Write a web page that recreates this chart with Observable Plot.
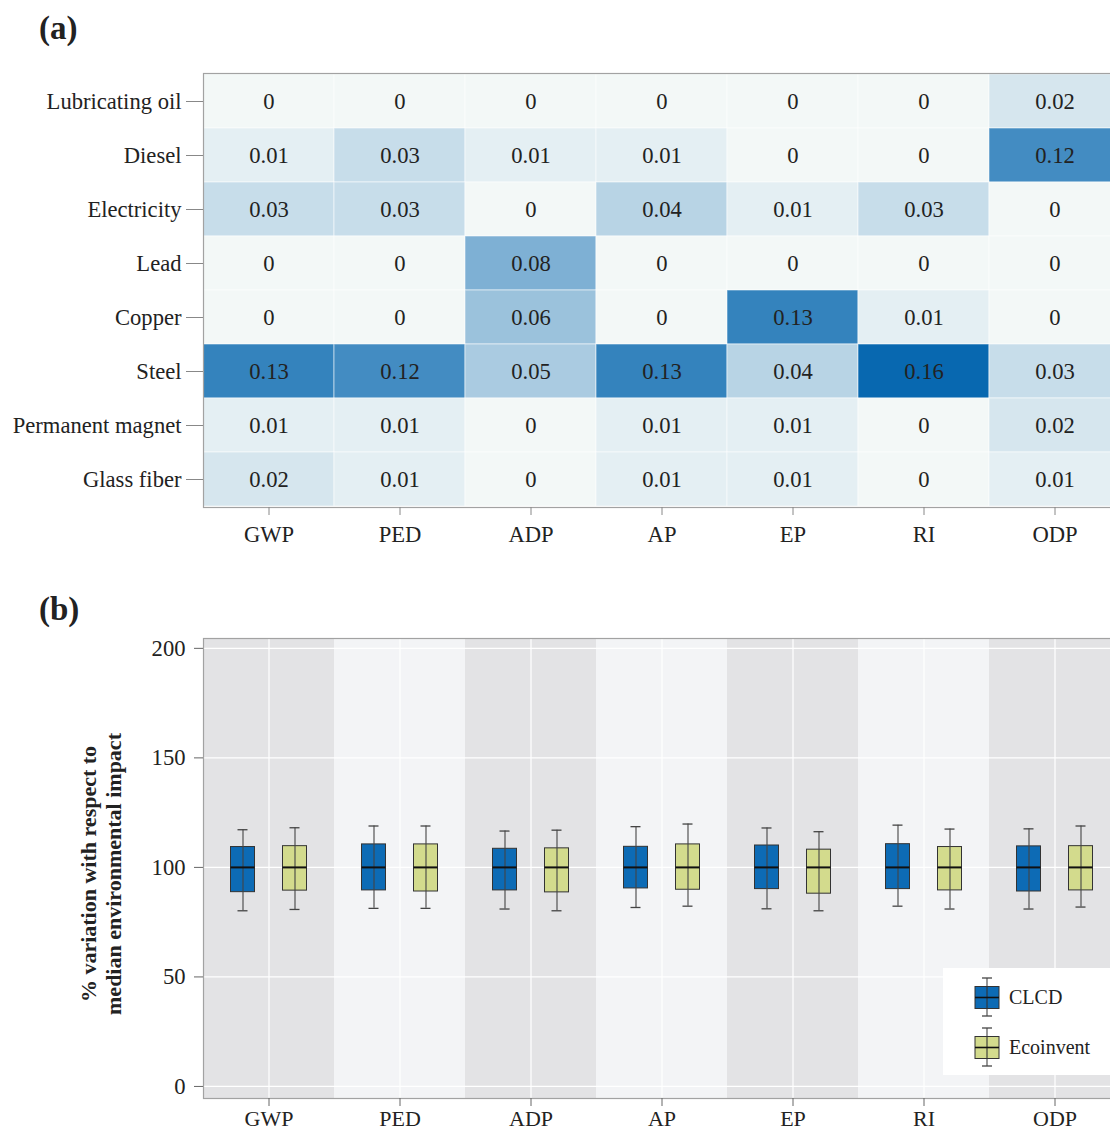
<!DOCTYPE html>
<html>
<head>
<meta charset="utf-8">
<script src="https://cdn.jsdelivr.net/npm/d3@7"></script>
<script src="https://cdn.jsdelivr.net/npm/@observablehq/plot@0.6"></script>
<style>
  body { margin: 0; background: #fff; }
  #wrap { position: relative; width: 1110px; height: 1132px; overflow: hidden;
          font-family: "Liberation Serif", "Times New Roman", serif; color: #222; }
  .panel { position: absolute; left: 0; }
  .panel svg { max-width: none !important; }
  .plabel { position: absolute; left: 39px; font-weight: bold; font-size: 33px; line-height: 1; }
  #ylab { position: absolute; left: 101px; top: 874px; transform: translate(-50%, -50%) rotate(-90deg);
          font-weight: bold; font-size: 22px; line-height: 25px; text-align: center; white-space: nowrap; }
  #legend { position: absolute; left: 943px; top: 968px; width: 200px; height: 107px; background: #fff; }
  .lrow { position: absolute; left: 30px; height: 40px; display: flex; align-items: center; font-size: 20px; }
  .lrow svg { margin-right: 8px; }
</style>
</head>
<body>
<div id="wrap">
  <div class="plabel" style="top:12px">(a)</div>
  <div class="plabel" style="top:593px">(b)</div>
  <div id="panelA" class="panel" style="top:0px"></div>
  <div id="panelB" class="panel" style="top:580px"></div>
  <div id="ylab">% variation with respect to<br>median environmental impact</div>
  <div id="legend"></div>
</div>
<script>
// ---------- data ----------
const impacts = ["GWP", "PED", "ADP", "AP", "EP", "RI", "ODP"];
const materials = ["Lubricating oil", "Diesel", "Electricity", "Lead", "Copper", "Steel", "Permanent magnet", "Glass fiber"];
// contribution values, rows = materials, columns = impacts
const contrib = [
  [0,    0,    0,    0,    0,    0,    0.02],
  [0.01, 0.03, 0.01, 0.01, 0,    0,    0.12],
  [0.03, 0.03, 0,    0.04, 0.01, 0.03, 0],
  [0,    0,    0.08, 0,    0,    0,    0],
  [0,    0,    0.06, 0,    0.13, 0.01, 0],
  [0.13, 0.12, 0.05, 0.13, 0.04, 0.16, 0.03],
  [0.01, 0.01, 0,    0.01, 0.01, 0,    0.02],
  [0.02, 0.01, 0,    0.01, 0.01, 0,    0.01]
];
const sources = ["CLCD", "Ecoinvent"];
// per impact: [low whisker, Q1, median, Q3, high whisker]
const clcdStats = [
  [80.2, 88.7, 100, 109.3, 117.2],
  [81.3, 89.5, 100, 110.5, 118.9],
  [81.0, 89.5, 100, 108.5, 116.6],
  [81.7, 90.4, 100, 109.4, 118.6],
  [81.1, 90.1, 100, 110.0, 118.0],
  [82.3, 90.1, 100, 110.6, 119.3],
  [81.0, 89.0, 100, 109.6, 117.6]
];
const ecoinventStats = [
  [80.8, 89.4, 100, 109.7, 118.1],
  [81.3, 89.0, 100, 110.5, 118.9],
  [80.2, 88.6, 100, 108.7, 117.0],
  [82.3, 89.8, 100, 110.5, 119.8],
  [80.2, 88.0, 100, 108.1, 116.3],
  [81.0, 89.5, 100, 109.3, 117.5],
  [81.9, 89.5, 100, 109.7, 118.9]
];
const yTicksB = [0, 50, 100, 150, 200];
const yDomainB = [-5.5, 204.5];

// ---------- styles ----------
const FONT = "Liberation Serif, Times New Roman, serif";
const FS = 22.6;
const sourceColors = { CLCD: "#0d6bb5", Ecoinvent: "#d3db8d" };
const bandColors = ["#e3e3e5", "#f3f4f6"];

// ---------- panel (a): heatmap ----------
const cells = [];
materials.forEach((m, i) => impacts.forEach((k, j) => cells.push({ material: m, impact: k, value: contrib[i][j] })));

const plotA = Plot.plot({
  width: 1125, height: 557,
  marginLeft: 203, marginRight: 5, marginTop: 73, marginBottom: 50,
  style: { fontFamily: FONT, fontSize: FS + "px", color: "#222", background: "transparent", maxWidth: "none" },
  x: { domain: impacts, padding: 0, axis: null },
  y: { domain: materials, padding: 0, axis: null },
  color: { type: "linear", domain: [0, 0.16], range: ["#f3f8f7", "#0868b0"], interpolate: "rgb" },
  marks: [
    Plot.cell(cells, { x: "impact", y: "material", fill: "value", stroke: "#ffffff", strokeOpacity: 0.55, inset: 0 }),
    Plot.text(cells, { x: "impact", y: "material", text: d => String(d.value), fill: "#222", fontSize: FS }),
    Plot.frame({ stroke: "#a2a2a2", strokeWidth: 1.2 }),
    Plot.axisX({ tickSize: 8, tickPadding: 10, stroke: "#888", fill: "#222", label: null, fontSize: FS }),
    Plot.axisY({ tickSize: 17, tickPadding: 5, stroke: "#888", fill: "#222", label: null, fontSize: FS })
  ]
});
document.getElementById("panelA").appendChild(plotA);

// ---------- panel (b): box plots ----------
function statsFor(arr) {
  return arr.map((s, i) => ({ impact: impacts[i], lo: s[0], q1: s[1], med: s[2], q3: s[3], hi: s[4] }));
}
const statsBySource = { CLCD: statsFor(clcdStats), Ecoinvent: statsFor(ecoinventStats) };

const BAND = 131, BOXW = 24, CAPW = 10, OFFSET = 26;
function boxMarks(source, dx) {
  const data = statsBySource[source];
  const bi = (BAND - BOXW) / 2, ci = (BAND - CAPW) / 2;
  return [
    Plot.barY(data, { x: "impact", y1: "q1", y2: "q3", fill: sourceColors[source], stroke: "#333",
                      strokeWidth: 1, insetLeft: bi + dx, insetRight: bi - dx }),
    Plot.ruleX(data, { x: "impact", y1: "lo", y2: "hi", dx, stroke: "#444", strokeWidth: 1.1 }),
    Plot.tickY(data, { x: "impact", y: "hi", insetLeft: ci + dx, insetRight: ci - dx, stroke: "#444", strokeWidth: 1.3 }),
    Plot.tickY(data, { x: "impact", y: "lo", insetLeft: ci + dx, insetRight: ci - dx, stroke: "#444", strokeWidth: 1.3 }),
    Plot.tickY(data, { x: "impact", y: "med", insetLeft: bi + dx, insetRight: bi - dx, stroke: "#111", strokeWidth: 2 })
  ];
}

const plotB = Plot.plot({
  width: 1125, height: 552,
  marginLeft: 203, marginRight: 5, marginTop: 58, marginBottom: 34,
  style: { fontFamily: FONT, fontSize: FS + "px", color: "#222", background: "transparent", maxWidth: "none" },
  x: { domain: impacts, padding: 0, axis: null },
  y: { domain: yDomainB, axis: null },
  marks: [
    Plot.cell(impacts.filter((d, i) => i % 2 === 0), { x: d => d, fill: bandColors[0], inset: 0 }),
    Plot.cell(impacts.filter((d, i) => i % 2 === 1), { x: d => d, fill: bandColors[1], inset: 0 }),
    Plot.ruleY(yTicksB, { stroke: "#ffffff", strokeWidth: 1.2 }),
    Plot.ruleX(impacts, { x: d => d, stroke: "#ffffff", strokeWidth: 1.2 }),
    ...boxMarks("CLCD", -OFFSET),
    ...boxMarks("Ecoinvent", OFFSET),
    Plot.frame({ stroke: "#a2a2a2", strokeWidth: 1.2 }),
    Plot.axisX({ tickSize: 8, tickPadding: 4, stroke: "#666", fill: "#222", label: null, fontSize: 22 }),
    Plot.axisY({ ticks: yTicksB, tickSize: 9, tickPadding: 9, stroke: "#666", fill: "#222", label: null, fontSize: FS })
  ]
});
document.getElementById("panelB").appendChild(plotB);

// ---------- legend ----------
const legend = document.getElementById("legend");
sources.forEach((s, i) => {
  const row = document.createElement("div");
  row.className = "lrow";
  row.style.top = (9 + i * 50) + "px";
  row.innerHTML =
    `<svg width="28" height="40" viewBox="0 0 28 40">
       <line x1="14" y1="1" x2="14" y2="39" stroke="#444" stroke-width="1.1"/>
       <line x1="9" y1="1" x2="19" y2="1" stroke="#444" stroke-width="1.3"/>
       <line x1="9" y1="39" x2="19" y2="39" stroke="#444" stroke-width="1.3"/>
       <rect x="2" y="9.5" width="24" height="22" fill="${sourceColors[s]}" stroke="#333" stroke-width="1"/>
       <line x1="14" y1="9.5" x2="14" y2="31.5" stroke="#333" stroke-width="1.1"/>
       <line x1="2" y1="20.5" x2="26" y2="20.5" stroke="#111" stroke-width="1.6"/>
     </svg><span>${s}</span>`;
  legend.appendChild(row);
});
</script>
</body>
</html>
